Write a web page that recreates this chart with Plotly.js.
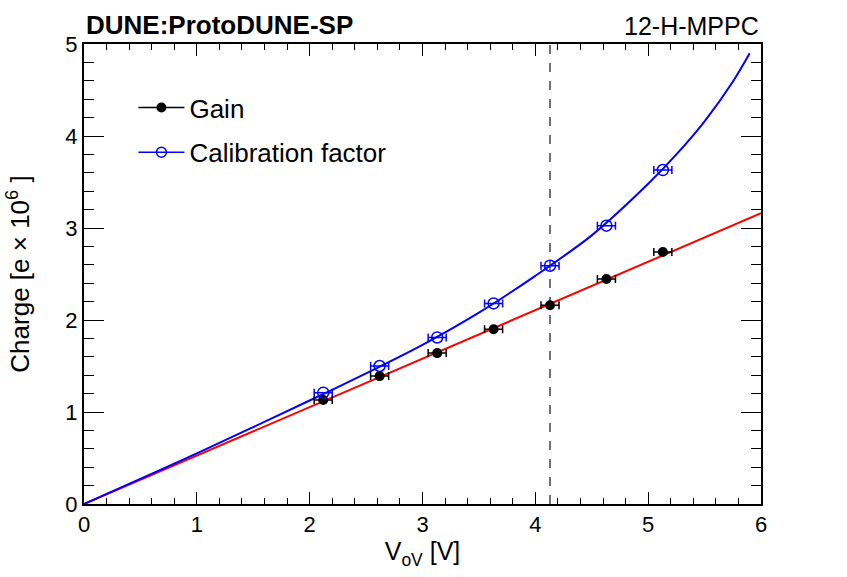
<!DOCTYPE html>
<html>
<head>
<meta charset="utf-8">
<script src="https://cdn.plot.ly/plotly-3.0.1.min.js"></script>
<style>
  html, body { margin: 0; padding: 0; background: white; }
  #chart { width: 847px; height: 577px; }
</style>
</head>
<body>
<div id="chart"></div>
<script>
// measured points
var vov = [2.12, 2.62, 3.13, 3.63, 4.13, 4.63, 5.13];
var vovErr = [0.08, 0.08, 0.08, 0.08, 0.08, 0.08, 0.08];
var gain = [1.13, 1.39, 1.64, 1.90, 2.16, 2.445, 2.74];
var calib = [1.21, 1.50, 1.81, 2.18, 2.59, 3.025, 3.63];

// fit curves
var gainFitX = [0, 6];
var gainFitY = [0, 3.16];
var calibFitX = [0, 1, 2, 2.5, 3, 3.5, 4, 4.5, 5, 5.25, 5.5, 5.75, 5.9];
var calibFitY = [0, 0.55, 1.125, 1.42, 1.73, 2.08, 2.48, 2.92, 3.48, 3.80, 4.16, 4.59, 4.90];

// operating voltage marker
var vopLine = 4.13;

var FONT = "Liberation Sans, Arial, sans-serif";

var data = [
  { x: gainFitX, y: gainFitY, mode: 'lines', type: 'scatter',
    line: { color: 'red', width: 2 }, showlegend: false, hoverinfo: 'skip' },
  { x: calibFitX, y: calibFitY, mode: 'lines', type: 'scatter',
    line: { color: 'blue', width: 2, shape: 'spline', smoothing: 0.8 }, showlegend: false, hoverinfo: 'skip' },
  { x: vov, y: gain, mode: 'markers', type: 'scatter', showlegend: false,
    error_x: { type: 'data', array: vovErr, color: 'black', thickness: 1.5, width: 4 },
    marker: { symbol: 'circle', size: 10, color: 'black' } },
  { x: vov, y: calib, mode: 'markers', type: 'scatter', showlegend: false,
    error_x: { type: 'data', array: vovErr, color: 'blue', thickness: 1.5, width: 4 },
    marker: { symbol: 'circle-open', size: 11, color: 'blue', line: { width: 1.5 } } },
  // legend entries
  { x: [null], y: [null], mode: 'lines+markers', type: 'scatter', name: 'Gain', legendgroup: 'g',
    line: { color: 'black', width: 1.5 }, marker: { symbol: 'circle', size: 10, color: 'black' } },
  { x: [null], y: [null], mode: 'lines+markers', type: 'scatter', name: 'Calibration factor', legendgroup: 'c',
    line: { color: 'blue', width: 1.5 },
    marker: { symbol: 'circle-open', size: 10, color: 'blue', line: { width: 1.5 } } }
];

var axisCommon = {
  showgrid: false, zeroline: false,
  showline: true, linecolor: 'black', linewidth: 2, mirror: 'allticks',
  ticks: 'inside', tickcolor: 'black', tickwidth: 1,
  tickfont: { family: FONT, size: 22, color: 'black' }
};

var layout = {
  width: 847,
  height: 577,
  margin: { l: 84, r: 86, t: 44, b: 73 },
  paper_bgcolor: 'white',
  plot_bgcolor: 'white',
  font: { family: FONT, color: 'black' },
  xaxis: Object.assign({}, axisCommon, {
    range: [0, 6], dtick: 1, ticklen: 12,
    minor: { dtick: 0.2, ticklen: 6, ticks: 'inside', tickcolor: 'black', tickwidth: 1 },
    title: { text: 'V<sub>oV</sub> [V]', font: { family: FONT, size: 25 }, standoff: 2 }
  }),
  yaxis: Object.assign({}, axisCommon, {
    range: [0, 5], dtick: 1, ticklen: 20,
    minor: { dtick: 0.2, ticklen: 10, ticks: 'inside', tickcolor: 'black', tickwidth: 1 },
    title: { text: 'Charge [e \u00d7 10<sup>6</sup> ]', font: { family: FONT, size: 26 }, standoff: 28 }
  }),
  legend: {
    x: 0.073, y: 0.913, xanchor: 'left', yanchor: 'top',
    bgcolor: 'rgba(0,0,0,0)', itemwidth: 46,
    traceorder: 'grouped', tracegroupgap: 8,
    font: { family: FONT, size: 26, color: 'black' }
  },
  shapes: [{
    type: 'line', xref: 'x', yref: 'y', x0: vopLine, x1: vopLine, y0: 0, y1: 5,
    line: { color: '#444', width: 1.5, dash: 'dash' }, layer: 'below'
  }],
  annotations: [
    { text: '<b>DUNE:ProtoDUNE-SP</b>', xref: 'paper', yref: 'paper', x: 0, y: 1,
      xanchor: 'left', yanchor: 'bottom', yshift: 2, showarrow: false,
      font: { family: FONT, size: 26, color: 'black' } },
    { text: '12-H-MPPC', xref: 'paper', yref: 'paper', x: 1, y: 1,
      xanchor: 'right', yanchor: 'bottom', yshift: 2, showarrow: false,
      font: { family: FONT, size: 25, color: 'black' } }
  ]
};

Plotly.newPlot('chart', data, layout, { displayModeBar: false });
</script>
</body>
</html>
